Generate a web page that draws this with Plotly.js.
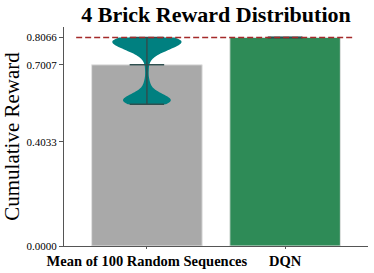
<!DOCTYPE html>
<html>
<head>
<meta charset="utf-8">
<script src="https://cdn.plot.ly/plotly-3.0.1.min.js"></script>
<style>html,body{margin:0;padding:0;background:#fff;}#chart{width:374px;height:273px;}</style>
</head>
<body>
<div id="chart"></div>
<script>
// ---- data ----
var categories = ["Mean of 100 Random Sequences", "DQN"];
var barValues = [0.7007, 0.8066];
var barColors = ["#a9a9a9", "#2e8b57"];
// rewards of the random sequences (estimated from the violin shape)
var randomRewards = [
  0.8066,0.8066,0.8066,0.8066,0.8066,0.8066,
  0.800,0.800,0.800,0.800,0.800,
  0.795,0.795,0.795,0.795,
  0.790,0.790,0.790,0.790,
  0.785,0.785,0.785,
  0.780,0.780,0.780,
  0.770,0.770,0.770,
  0.765,0.765,
  0.760,0.760,
  0.755,0.755,
  0.750,0.745,0.735,
  0.715,0.680,0.640,0.620,
  0.600,0.590,0.590,0.580,0.580,0.575,
  0.570,0.570,0.570,0.565,
  0.560,0.560,0.560,0.560,0.560,0.560,
  0.555,0.555,0.555,
  0.550,0.548,0.548
];
var dqnRewards = [0.8066];
var rangeMin = [0.548, 0.8066];
var rangeMax = [0.8066, 0.8066];
var meanVals = [0.7007, 0.8066];
var refLine = 0.8066;
var yTicks = [0, 0.4033, 0.7007, 0.8066];
var yTickText = ["0.0000", "0.4033", "0.7007", "0.8066"];

// ---- traces ----
var pos = categories.map(function(c, i){ return i; });
var traces = [];
traces.push({
  type: "bar", x: pos, y: barValues, width: 0.8,
  marker: {color: barColors, line: {color: "#e3e3e3", width: 1}},
  hoverinfo: "skip", showlegend: false
});
traces.push({
  type: "violin", x0: 0, y: randomRewards, width: 0.5,
  spanmode: "hard", bandwidth: 0.02, scalemode: "width",
  points: false, box: {visible: false}, meanline: {visible: false},
  fillcolor: "#008080", line: {color: "#008080", width: 0},
  opacity: 1, hoverinfo: "skip", showlegend: false, side: "both"
});
var lineColor = "#2f4f4f";
var cap = 0.125;
pos.forEach(function(p, i){
  traces.push({type: "scatter", mode: "lines", x: [p, p], y: [rangeMin[i], rangeMax[i]],
    line: {color: lineColor, width: 1.5}, hoverinfo: "skip", showlegend: false});
  [rangeMin[i], rangeMax[i], meanVals[i]].forEach(function(v){
    traces.push({type: "scatter", mode: "lines", x: [p - cap, p + cap], y: [v, v],
      line: {color: lineColor, width: 1.5}, hoverinfo: "skip", showlegend: false});
  });
});

var serif = "Liberation Serif, Times New Roman, serif";
var layout = {
  width: 374, height: 273,
  margin: {l: 64, r: 6, t: 27, b: 27, pad: 0},
  paper_bgcolor: "#ffffff", plot_bgcolor: "#ffffff",
  showlegend: false,
  violinmode: "overlay",
  title: {text: "<b>4 Brick Reward Distribution</b>", font: {family: serif, size: 22, color: "#000"},
    x: 0.5, xref: "paper", xanchor: "center", y: 0.949, yref: "container", yanchor: "middle"},
  xaxis: {
    range: [-0.6, 1.6], tickvals: pos, ticktext: categories.map(function(c){return "<b>"+c+"</b>";}),
    showline: true, linecolor: "#555555", linewidth: 1, ticks: "outside", ticklen: 2, tickcolor: "#555555",
    showgrid: false, zeroline: false, tickfont: {family: serif, size: 14.5, color: "#000"}
  },
  yaxis: {
    range: [0, 0.8469], tickvals: yTicks, ticktext: yTickText,
    showline: true, linecolor: "#555555", linewidth: 1, ticks: "outside", ticklen: 4, tickcolor: "#555555",
    showgrid: false, zeroline: false, tickfont: {family: serif, size: 11, color: "#000"},
    title: {text: "Cumulative Reward", font: {family: serif, size: 21, color: "#000"}, standoff: 5}
  },
  shapes: [{
    type: "line", xref: "paper", x0: 0.04, x1: 0.955, yref: "y", y0: refLine, y1: refLine,
    line: {color: "#a52a2a", width: 1.5, dash: "6px,3px"}
  }]
};
Plotly.newPlot("chart", traces, layout, {staticPlot: true, displayModeBar: false});
</script>
</body>
</html>
